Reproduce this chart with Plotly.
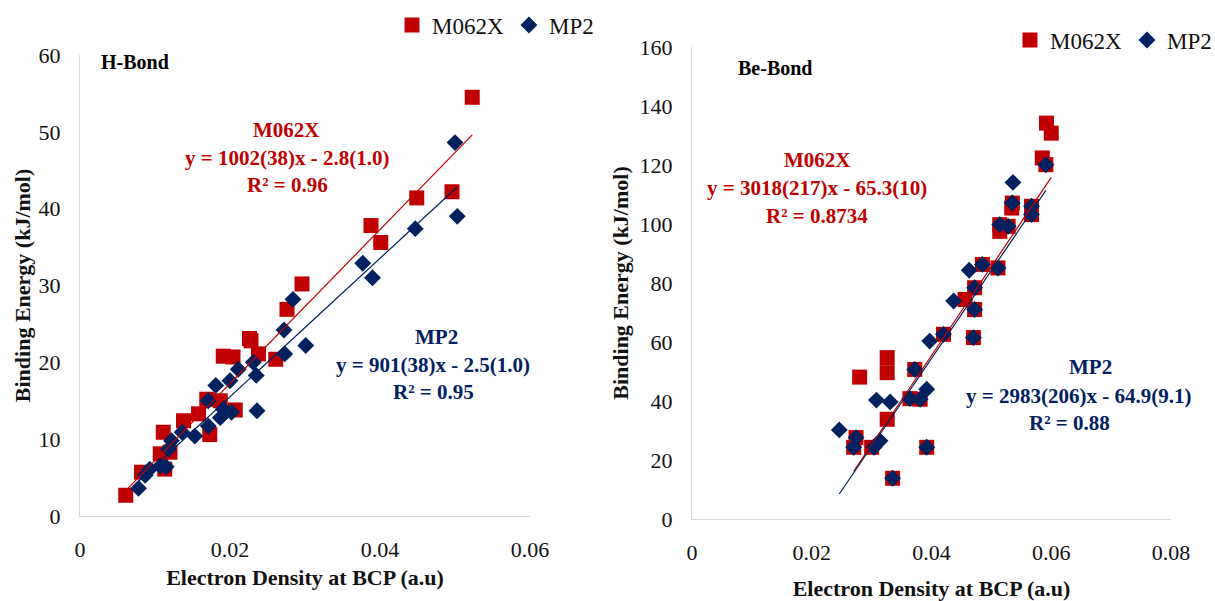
import plotly.graph_objects as go

W, H = 1215, 601

# ---------------- data ----------------
hb_m062x_x = [0.0061, 0.0082, 0.0107, 0.0113, 0.0111, 0.0120, 0.0138, 0.0158, 0.0173, 0.0169,
              0.0187, 0.0207, 0.0191, 0.0204, 0.0226, 0.0228, 0.0238, 0.0261, 0.0276, 0.0296,
              0.0388, 0.0401, 0.0449, 0.0496, 0.0523]
hb_m062x_y = [2.7, 5.7, 8.1, 6.1, 10.9, 8.3, 12.4, 13.3, 10.6, 15.2,
              15.0, 13.8, 20.8, 20.7, 23.1, 22.8, 21.1, 20.4, 26.9, 30.2,
              37.8, 35.6, 41.4, 42.2, 54.5]

hb_mp2_x = [0.0078, 0.0087, 0.0093, 0.0107, 0.0115, 0.0118, 0.0122, 0.0136, 0.0153, 0.0171,
            0.0187, 0.0202, 0.0191, 0.0171, 0.0181, 0.0200, 0.0211, 0.0235, 0.0231, 0.0236,
            0.0273, 0.0301, 0.0272, 0.0284, 0.0377, 0.0390, 0.0447, 0.0500, 0.0503]
hb_mp2_y = [3.6, 5.3, 6.1, 6.5, 6.4, 8.7, 9.8, 10.9, 10.4, 11.7,
            12.8, 13.5, 13.9, 15.0, 17.0, 17.6, 19.1, 18.3, 20.0, 13.7,
            21.1, 22.2, 24.2, 28.2, 32.9, 31.0, 37.4, 48.6, 39.0]

be_m062x_x = [0.0280, 0.0326, 0.0326, 0.0326, 0.0274, 0.0270, 0.0300, 0.0335, 0.0372, 0.0364,
              0.0381, 0.0392, 0.0420, 0.0456, 0.0470, 0.0472, 0.0472, 0.0485, 0.0511, 0.0514,
              0.0514, 0.0528, 0.0534, 0.0535, 0.0567, 0.0567, 0.0585, 0.0591, 0.0592, 0.0600]
be_m062x_y = [48.1, 54.7, 49.6, 33.8, 27.6, 24.3, 24.3, 13.8, 50.7, 40.8,
              40.6, 24.3, 62.6, 74.4, 61.5, 71.0, 78.4, 86.3, 85.1, 97.5,
              99.8, 99.2, 105.4, 107.1, 106.0, 103.2, 122.4, 120.1, 134.2, 130.8]

be_mp2_x = [0.0246, 0.0274, 0.0270, 0.0304, 0.0314, 0.0308, 0.0331, 0.0335, 0.0364, 0.0381,
            0.0372, 0.0392, 0.0397, 0.0392, 0.0420, 0.0437, 0.0463, 0.0470, 0.0472, 0.0472,
            0.0485, 0.0511, 0.0514, 0.0528, 0.0535, 0.0536, 0.0567, 0.0567, 0.0591]
be_mp2_y = [30.2, 27.6, 24.3, 24.3, 26.5, 40.3, 39.7, 13.8, 40.8, 40.6,
            50.7, 24.3, 60.3, 44.0, 62.6, 73.9, 84.3, 61.5, 71.0, 78.4,
            86.3, 85.1, 99.8, 99.2, 107.1, 114.1, 106.0, 103.2, 120.1]

# linear fits as printed on the chart (slope, intercept)
hb_m062x_fit = [1002, -2.8]
hb_mp2_fit = [901, -2.5]
be_m062x_fit = [3018, -65.3]
be_mp2_fit = [2983, -64.9]

hb_xticks = [0, 0.02, 0.04, 0.06]
hb_yticks = [0, 10, 20, 30, 40, 50, 60]
be_xticks = [0, 0.02, 0.04, 0.06, 0.08]
be_yticks = [0, 20, 40, 60, 80, 100, 120, 140, 160]

RED = "#C00000"
BLUE = "#002060"
FONT = "Liberation Serif"
AXIS_GREY = "#D9D9D9"


def px(x):
    return x / W


def py(y):
    return 1 - y / H


fig = go.Figure()


def add_panel(xs_r, ys_r, xs_b, ys_b, fit_r, fit_b, xa, ya, legend):
    fig.add_trace(go.Scatter(x=xs_r, y=ys_r, mode="markers", name="M062X",
                             marker=dict(symbol="square", size=15, color=RED),
                             xaxis=xa, yaxis=ya, legend=legend))
    fig.add_trace(go.Scatter(x=xs_b, y=ys_b, mode="markers", name="MP2",
                             marker=dict(symbol="diamond", size=13, color=BLUE),
                             xaxis=xa, yaxis=ya, legend=legend))
    for xs, fit, col in ((xs_r, fit_r, RED), (xs_b, fit_b, BLUE)):
        lx = [min(xs), max(xs)]
        ly = [fit[0] * v + fit[1] for v in lx]
        fig.add_trace(go.Scatter(x=lx, y=ly, mode="lines", showlegend=False,
                                 line=dict(color=col, width=1.2),
                                 xaxis=xa, yaxis=ya, hoverinfo="skip"))


add_panel(hb_m062x_x, hb_m062x_y, hb_mp2_x, hb_mp2_y, hb_m062x_fit, hb_mp2_fit, "x", "y", "legend")
add_panel(be_m062x_x, be_m062x_y, be_mp2_x, be_mp2_y, be_m062x_fit, be_mp2_fit, "x2", "y2", "legend2")

tickfont = dict(family=FONT, size=22, color="#111111")
titlefont = dict(family=FONT, size=22, color="#111111")

common = dict(showgrid=False, zeroline=False, showline=True, linecolor=AXIS_GREY, linewidth=1,
              ticks="", tickfont=tickfont, title_font=titlefont, automargin=False)

fig.update_layout(
    width=W, height=H,
    margin=dict(l=0, r=0, t=0, b=0, autoexpand=False),
    paper_bgcolor="white", plot_bgcolor="white",
    font=dict(family=FONT, color="#111111"),
    xaxis=dict(domain=[px(80), px(530)], range=[0, 0.06], tickvals=hb_xticks,
               ticktext=[f"{v:g}" for v in hb_xticks], anchor="y",
               title=dict(text="<b>Electron Density at BCP (a.u)</b>", standoff=8),
               ticklabelstandoff=14, **common),
    yaxis=dict(domain=[py(516), py(55)], range=[0, 60], tickvals=hb_yticks, anchor="x",
               title=dict(text="<b>Binding Energy (kJ/mol)</b>", standoff=1),
               ticklabelstandoff=14, **common),
    xaxis2=dict(domain=[px(692), px(1171)], range=[0, 0.08], tickvals=be_xticks,
                ticktext=[f"{v:g}" for v in be_xticks], anchor="y2",
                title=dict(text="<b>Electron Density at BCP (a.u)</b>", standoff=18),
                ticklabelstandoff=14, **common),
    yaxis2=dict(domain=[py(519), py(47)], range=[0, 160], tickvals=be_yticks, anchor="x2",
                title=dict(text="<b>Binding Energy (kJ/mol)</b>", standoff=4),
                ticklabelstandoff=14, **common),
    legend=dict(orientation="h", x=px(392), y=py(25), xanchor="left", yanchor="middle",
                font=dict(family=FONT, size=23, color="#111111"), bgcolor="rgba(0,0,0,0)",
                itemwidth=30, tracegroupgap=0),
    legend2=dict(orientation="h", x=px(1010), y=py(40), xanchor="left", yanchor="middle",
                 font=dict(family=FONT, size=23, color="#111111"), bgcolor="rgba(0,0,0,0)",
                 itemwidth=30, tracegroupgap=0),
    showlegend=True,
)

annots = [
    ("<b>H-Bond</b>", 135, 62, "black", 20),
    ("<b>Be-Bond</b>", 775, 68, "black", 20),
    ("<b>M062X</b>", 286, 130, RED, 21),
    ("<b>y = 1002(38)x - 2.8(1.0)</b>", 287, 158, RED, 21),
    ("<b>R² = 0.96</b>", 287, 185, RED, 21),
    ("<b>MP2</b>", 436, 337, BLUE, 21),
    ("<b>y = 901(38)x - 2.5(1.0)</b>", 433, 365, BLUE, 21),
    ("<b>R² = 0.95</b>", 433, 392, BLUE, 21),
    ("<b>M062X</b>", 817, 160, RED, 21),
    ("<b>y = 3018(217)x - 65.3(10)</b>", 817, 188, RED, 21),
    ("<b>R² = 0.8734</b>", 817, 216, RED, 21),
    ("<b>MP2</b>", 1090, 367, BLUE, 21),
    ("<b>y = 2983(206)x - 64.9(9.1)</b>", 1078, 396, BLUE, 21),
    ("<b>R² = 0.88</b>", 1069, 423, BLUE, 21),
]
for text, x, y, col, size in annots:
    fig.add_annotation(text=text, x=px(x), y=py(y), xref="paper", yref="paper",
                       xanchor="center", yanchor="middle", showarrow=False,
                       font=dict(family=FONT, size=size, color=col))

fig.write_html("out.html")
